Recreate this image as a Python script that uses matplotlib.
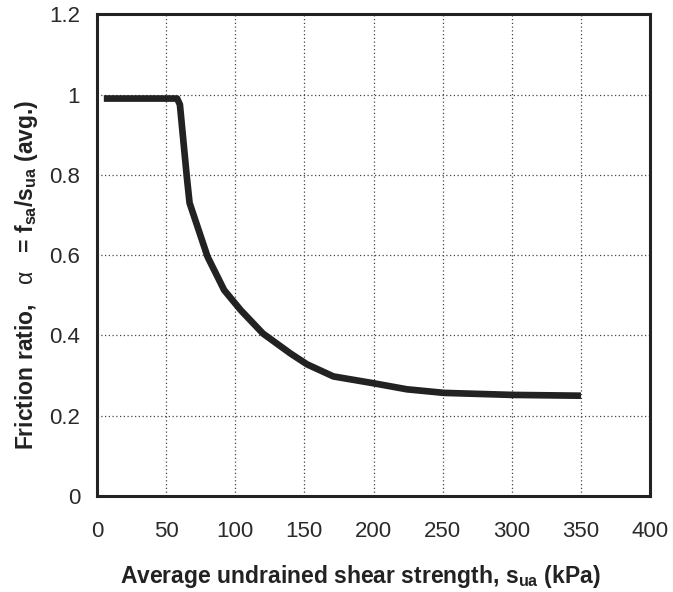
import numpy as np
import matplotlib
matplotlib.use('Agg')
import matplotlib.pyplot as plt

# curve (s_ua in kPa, alpha)
s_ua = [5, 58, 60, 65, 67, 80, 92, 104, 120, 140, 152, 171, 200, 224, 251, 300, 350]
alpha = [0.99, 0.99, 0.975, 0.795, 0.73, 0.596, 0.513, 0.463, 0.405, 0.355, 0.328, 0.298, 0.281, 0.266, 0.257, 0.252, 0.25]

x_ticks = [0, 50, 100, 150, 200, 250, 300, 350, 400]
y_ticks = [0, 0.2, 0.4, 0.6, 0.8, 1.0, 1.2]
y_ticklabels = ['0', '0.2', '0.4', '0.6', '0.8', '1', '1.2']

plt.rcParams['font.family'] = ['Liberation Sans', 'DejaVu Sans']
plt.rcParams['mathtext.fontset'] = 'custom'
plt.rcParams['mathtext.rm'] = 'Liberation Sans'
plt.rcParams['mathtext.bf'] = 'Liberation Sans:bold'

fig = plt.figure(figsize=(6.73, 5.92), dpi=100)
ax = fig.add_axes([0.144, 0.162, 0.822, 0.814])

ax.plot(s_ua, alpha, color='#222222', lw=4.8, solid_capstyle='butt', solid_joinstyle='round', zorder=3)

ax.set_xlim(0, 400)
ax.set_ylim(0, 1.2)
ax.set_xticks(x_ticks)
ax.set_yticks(y_ticks)
ax.set_yticklabels(y_ticklabels)
ax.tick_params(length=0, labelsize=16, colors='#2a2a2a')
ax.tick_params(axis='x', pad=18)
ax.tick_params(axis='y', pad=12)
ax.grid(True, linestyle=(0, (1, 2)), color='#444444', lw=0.9)
for sp in ax.spines.values():
    sp.set_linewidth(2.2)
    sp.set_color('#222222')

ax.set_xlabel(r'Average undrained shear strength, s$_{\mathbf{ua}}$ (kPa)',
              fontsize=16.5, fontweight='bold', color='#222222')
ax.set_ylabel(r'Friction ratio,   $\mathrm{\alpha}$   = f$_{\mathbf{sa}}$/s$_{\mathbf{ua}}$ (avg.)',
              fontsize=16.5, fontweight='bold', color='#222222')
ax.xaxis.set_label_coords(0.476, -0.139)
ax.yaxis.label.set_va('center')
ax.yaxis.set_label_coords(-0.127, 0.46)

fig.savefig('out.png', dpi=100)
